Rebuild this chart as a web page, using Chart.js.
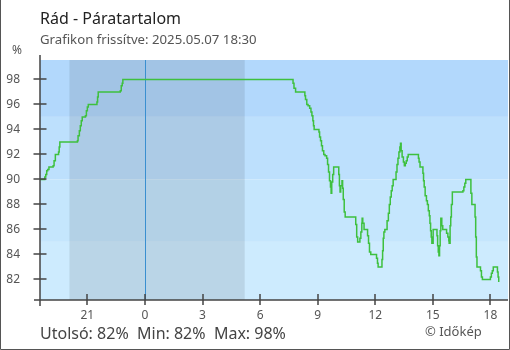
<!DOCTYPE html>
<html>
<head>
<meta charset="utf-8">
<script src="https://cdn.jsdelivr.net/npm/chart.js@4/dist/chart.umd.min.js"></script>
<style>
  body { margin: 0; background: #fff; }
  #wrap { position: relative; width: 510px; height: 350px; font-family: "Noto Sans", sans-serif; }
  #wrap canvas { position: absolute; left: 0; top: 0; }
  .txt { position: absolute; line-height: 1; white-space: pre; }
  #title { left: 40px; top: 10px; font-size: 16px; color: #222; }
  #sub { left: 40px; top: 33.3px; font-size: 13.2px; color: #555; }
  #unit { left: 12px; top: 44px; font-size: 12px; color: #555; }
  #stats { left: 40px; top: 325px; font-size: 16px; color: #444; }
  #copy { left: 425px; top: 324.5px; font-size: 13px; color: #555; }
</style>
</head>
<body>
<div id="wrap">
  <canvas id="chart" width="510" height="350"></canvas>
  <div class="txt" id="title">Rád - Páratartalom</div>
  <div class="txt" id="sub">Grafikon frissítve: 2025.05.07 18:30</div>
  <div class="txt" id="unit">%</div>
  <div class="txt" id="stats">Utolsó: 82%  Min: 82%  Max: 98%</div>
  <div class="txt" id="copy">© Időkép</div>
</div>
<script>
// 2025.05.06 evening
const prevDayTimes = ["18:30", "18:45", "18:47", "18:50", "18:53", "18:56", "19:00", "19:13", "19:16", "19:20",
  "19:30", "19:32", "19:34", "20:29", "20:31", "20:35", "20:38", "20:41", "20:44", "20:54",
  "20:57", "21:00", "21:03", "21:30", "21:32", "21:34", "22:43", "22:46", "22:49", "22:51"];
const prevDayHumidity = [90, 90, 90.2, 90.4, 90.7, 90.8, 91, 91.1, 91.5, 92,
  92.2, 92.6, 93, 93.1, 93.5, 93.9, 94.3, 94.7, 95, 95.1,
  95.5, 95.8, 96, 96.2, 96.6, 97, 97.1, 97.5, 97.7, 98];

// 2025.05.07
const todayTimes = ["07:43", "07:46", "07:51", "08:20", "08:22", "08:26", "08:30", "08:35", "08:39", "08:42",
  "08:45", "08:47", "08:49", "09:04", "09:06", "09:09", "09:12", "09:15", "09:19", "09:23",
  "09:28", "09:31", "09:34", "09:37", "09:40", "09:42", "09:44", "09:47", "09:50", "10:06",
  "10:08", "10:10", "10:12", "10:16", "10:18", "10:20", "10:23", "10:26", "10:59", "11:02",
  "11:05", "11:12", "11:15", "11:18", "11:19", "11:21", "11:25", "11:36", "11:39", "11:42",
  "11:46", "12:04", "12:07", "12:09", "12:21", "12:23", "12:25", "12:27", "12:30", "12:37",
  "12:41", "12:44", "12:47", "12:50", "12:53", "12:56", "13:05", "13:08", "13:11", "13:14",
  "13:17", "13:19", "13:21", "13:24", "13:28", "13:31", "13:34", "13:37", "13:40", "13:43",
  "14:15", "14:17", "14:20", "14:29", "14:31", "14:33", "14:36", "14:40", "14:43", "14:46",
  "14:49", "14:51", "14:53", "14:55", "14:57", "15:01", "15:13", "15:15", "15:17", "15:19",
  "15:21", "15:23", "15:25", "15:28", "15:31", "15:43", "15:47", "15:50", "15:51", "15:54",
  "15:56", "15:58", "16:01", "16:34", "16:37", "16:40", "16:43", "16:59", "17:02", "17:12",
  "17:14", "17:16", "17:18", "17:29", "17:32", "17:35", "18:00", "18:03", "18:06", "18:09",
  "18:22", "18:24", "18:26"];
const todayHumidity = [97.7, 97.3, 97, 96.7, 96.4, 96, 95.9, 95.7, 95.4, 95.1,
  94.7, 94.3, 94, 93.8, 93.4, 93.1, 92.7, 92.3, 92, 91.9,
  91.7, 91.2, 90.6, 89.9, 89.4, 88.9, 89.8, 90.4, 91, 90.4,
  89.5, 89, 89.5, 89.9, 89.3, 88.4, 87.4, 87, 86.4, 85.4,
  85, 85.3, 85.8, 86.5, 86.9, 86.5, 86, 85.5, 84.9, 84.2,
  84, 83.7, 83.3, 83, 83.6, 84.3, 85.3, 85.8, 86, 86.7,
  87.3, 88, 88.6, 89.1, 89.5, 90, 90.6, 91.2, 91.7, 92.2,
  92.6, 92.9, 92.3, 91.8, 91.4, 91.1, 91.3, 91.5, 91.8, 92,
  91.7, 91.4, 91, 90.5, 89.9, 89.4, 88.7, 88.3, 88, 87.5,
  87.1, 86.5, 85.9, 85.4, 84.9, 86, 85.5, 84.7, 84.2, 83.9,
  84.7, 85.9, 86.9, 86.3, 86, 85.7, 85.4, 85.1, 84.9, 86.3,
  87, 88, 89, 89.1, 89.4, 89.7, 90, 88.9, 88, 87,
  85.4, 83.8, 83, 82.7, 82.2, 82, 82.2, 82.5, 82.7, 83,
  82.6, 82.2, 81.8];

const xStart = "18:32", xEnd = "18:55";     // axis range: prev day 18:32 .. today 18:55
const xTickStep = 3;                        // hours
const yMin = 80.35, yMax = 99.55, yTickStep = 2;
const sunset = "20:04", sunrise = "05:12";  // night shading
const bandLimits = [95, 90, 85];            // humidity background bands
const bandColors = ["#b2d8fc", "#bde0fd", "#c5e6fd", "#cdebfe"];

const FONT = "Noto Sans";

const toHours = (t, prevDay) => {
  const [h, m] = t.split(":").map(Number);
  return h + m / 60 - (prevDay ? 24 : 0);
};

const points = [
  ...prevDayTimes.map((t, i) => ({ x: toHours(t, true), y: prevDayHumidity[i] })),
  ...todayTimes.map((t, i) => ({ x: toHours(t, false), y: todayHumidity[i] })),
];

const backdrop = {
  id: "backdrop",
  beforeDatasetsDraw(chart) {
    const { ctx, chartArea: a, scales: { x, y } } = chart;
    ctx.save();
    // humidity bands
    const edges = [yMax, ...bandLimits, yMin];
    for (let i = 0; i < bandColors.length; i++) {
      const top = y.getPixelForValue(edges[i]);
      const bot = y.getPixelForValue(edges[i + 1]);
      ctx.fillStyle = bandColors[i];
      ctx.fillRect(a.left, top, a.right - a.left, bot - top);
    }
    // night
    const n1 = x.getPixelForValue(toHours(sunset, true));
    const n2 = x.getPixelForValue(toHours(sunrise, false));
    ctx.fillStyle = "rgba(0, 0, 0, 0.09)";
    ctx.fillRect(n1, a.top, n2 - n1, a.bottom - a.top);
    // midnight
    const mx = Math.round(x.getPixelForValue(0)) + 0.5;
    ctx.strokeStyle = "#3a8fd0";
    ctx.lineWidth = 1;
    ctx.beginPath();
    ctx.moveTo(mx, a.top);
    ctx.lineTo(mx, a.bottom);
    ctx.stroke();
    ctx.restore();
  },
  afterDatasetsDraw(chart) {
    const { ctx, chartArea: a, scales: { x, y } } = chart;
    ctx.save();
    ctx.strokeStyle = "#444";
    ctx.lineWidth = 1.5;
    ctx.beginPath();
    // axes
    ctx.moveTo(a.left, a.top - 5);
    ctx.lineTo(a.left, a.bottom + 6);
    ctx.moveTo(a.left - 6, a.bottom);
    ctx.lineTo(a.right, a.bottom);
    // ticks
    y.ticks.forEach((t) => {
      const py = Math.round(y.getPixelForValue(t.value));
      ctx.moveTo(a.left - 6.5, py);
      ctx.lineTo(a.left + 6.5, py);
    });
    x.ticks.forEach((t) => {
      const px = Math.round(x.getPixelForValue(t.value));
      ctx.moveTo(px, a.bottom - 6);
      ctx.lineTo(px, a.bottom + 5);
    });
    ctx.stroke();
    // frame
    ctx.strokeStyle = "#555";
    ctx.lineWidth = 1;
    ctx.beginPath();
    ctx.moveTo(0.5, 0);
    ctx.lineTo(0.5, 349.5);
    ctx.lineTo(509.5, 349.5);
    ctx.lineTo(509.5, 0);
    ctx.stroke();
    ctx.restore();
  },
};

new Chart(document.getElementById("chart"), {
  type: "line",
  data: {
    datasets: [{
      data: points,
      borderColor: "#3ec03e",
      borderWidth: 1.5,
      pointRadius: 0,
      stepped: true,
      fill: false,
    }],
  },
  options: {
    responsive: false,
    animation: false,
    layout: { padding: { top: 60, right: 2, bottom: 0, left: 0 } },
    plugins: {
      legend: { display: false },
      tooltip: { enabled: false },
      title: { display: false },
    },
    scales: {
      x: {
        type: "linear",
        min: toHours(xStart, true),
        max: toHours(xEnd, false),
        grid: { display: false, drawTicks: false },
        border: { display: false },
        afterFit: (s) => { s.height = 50; },
        ticks: {
          stepSize: xTickStep,
          includeBounds: false,
          autoSkip: false,
          maxRotation: 0,
          padding: 8,
          color: "#555",
          font: { family: FONT, size: 12 },
          callback: (v) => (v + 24) % 24,
        },
      },
      y: {
        min: yMin,
        max: yMax,
        grid: { display: false, drawTicks: false },
        border: { display: false },
        afterFit: (s) => { s.width = 40; },
        ticks: {
          stepSize: yTickStep,
          includeBounds: false,
          padding: 20,
          color: "#555",
          font: { family: FONT, size: 12 },
        },
      },
    },
  },
  plugins: [backdrop],
});
</script>
</body>
</html>
